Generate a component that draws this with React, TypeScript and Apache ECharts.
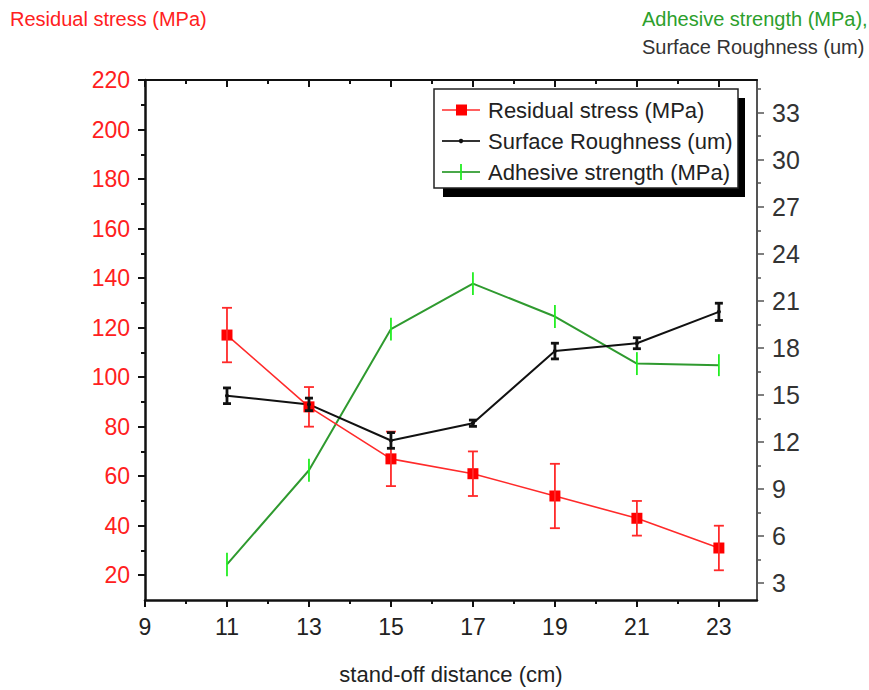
import React, { useEffect, useRef } from "react";
import * as echarts from "echarts";

const distances = [11, 13, 15, 17, 19, 21, 23];
const residualStress = [117, 88, 67, 61, 52, 43, 31];
const residualErr = [11, 8, 11, 9, 13, 7, 9];
const roughness = [14.95, 14.4, 12.1, 13.2, 17.8, 18.3, 20.3];
const roughnessErr = [0.5, 0.4, 0.5, 0.2, 0.5, 0.35, 0.55];
const adhesive = [4.2, 10.2, 19.2, 22.1, 20.0, 17.0, 16.9];
const adhesiveErr = [0.75, 0.73, 0.73, 0.73, 0.73, 0.73, 0.7];

const xMajor = [9, 11, 13, 15, 17, 19, 21, 23];
const xMinor = [10, 12, 14, 16, 18, 20, 22];
const leftMajor = [20, 40, 60, 80, 100, 120, 140, 160, 180, 200, 220];
const leftMinor = [30, 50, 70, 90, 110, 130, 150, 170, 190, 210];
const rightMajor = [3, 6, 9, 12, 15, 18, 21, 24, 27, 30, 33];
const rightMinor = [4.5, 7.5, 10.5, 13.5, 16.5, 19.5, 22.5, 25.5, 28.5, 31.5, 34.5];

const FONT = "'Liberation Sans', Arial, sans-serif";

function errorSeries(
  vals: number[],
  errs: number[],
  yAxisIndex: number,
  color: string,
  cap: number,
  width: number
) {
  return {
    type: "custom",
    xAxisIndex: 0,
    yAxisIndex,
    z: 5,
    silent: true,
    encode: { x: 0, y: [1, 2] },
    data: distances.map((x, i) => [x, vals[i] - errs[i], vals[i] + errs[i]]),
    renderItem: (params: any, api: any) => {
      const x = api.value(0);
      const p1 = api.coord([x, api.value(1)]);
      const p2 = api.coord([x, api.value(2)]);
      const style = { stroke: color, lineWidth: width };
      const children: any[] = [
        { type: "line", shape: { x1: p1[0], y1: p1[1], x2: p2[0], y2: p2[1] }, style },
      ];
      if (cap > 0) {
        children.push({
          type: "line",
          shape: { x1: p1[0] - cap / 2, y1: p1[1], x2: p1[0] + cap / 2, y2: p1[1] },
          style,
        });
        children.push({
          type: "line",
          shape: { x1: p2[0] - cap / 2, y1: p2[1], x2: p2[0] + cap / 2, y2: p2[1] },
          style,
        });
      }
      return { type: "group", children };
    },
  };
}

export default function App() {
  const ref = useRef<HTMLDivElement>(null);

  useEffect(() => {
    if (!ref.current) return;
    const chart = echarts.init(ref.current, null, { renderer: "svg" });
    const xBase = { type: "value", min: 9, max: 23.93, gridIndex: 0, splitLine: { show: false } };
    const yLeftBase = { type: "value", min: 10, max: 220, splitLine: { show: false } };
    const yRightBase = { type: "value", min: 1.93, max: 35.08, splitLine: { show: false } };

    const legendRows = [
      { y: 110, label: "Residual stress (MPa)" },
      { y: 141, label: "Surface Roughness (um)" },
      { y: 172, label: "Adhesive strength (MPa)" },
    ];

    chart.setOption({
      animation: false,
      backgroundColor: "#ffffff",
      textStyle: { fontFamily: FONT },
      grid: { left: 145, right: 112, top: 80, bottom: 86, containLabel: false },
      xAxis: [
        {
          ...xBase,
          position: "bottom",
          name: "stand-off distance (cm)",
          nameLocation: "middle",
          nameGap: 63,
          nameTextStyle: { fontSize: 22, color: "#222", fontFamily: FONT },
          axisLine: { show: true, onZero: false, lineStyle: { color: "#111", width: 2.5 } },
          axisTick: { show: true, inside: false, length: 7, customValues: xMajor, lineStyle: { color: "#111", width: 2 } },
          axisLabel: { show: true, customValues: xMajor, fontSize: 23, color: "#222", margin: 15, fontFamily: FONT },
        },
        {
          ...xBase,
          position: "bottom",
          axisLine: { show: false, onZero: false },
          axisTick: { show: true, inside: false, length: 4, customValues: xMinor, lineStyle: { color: "#111", width: 2 } },
          axisLabel: { show: false },
        },
        {
          ...xBase,
          position: "top",
          axisLine: { show: true, onZero: false, lineStyle: { color: "#111", width: 2 } },
          axisTick: { show: true, inside: true, length: 7, customValues: xMajor, lineStyle: { color: "#111", width: 2 } },
          axisLabel: { show: false },
        },
        {
          ...xBase,
          position: "top",
          axisLine: { show: false, onZero: false },
          axisTick: { show: true, inside: true, length: 4, customValues: xMinor, lineStyle: { color: "#111", width: 2 } },
          axisLabel: { show: false },
        },
      ],
      yAxis: [
        {
          ...yLeftBase,
          position: "left",
          axisLine: { show: true, onZero: false, lineStyle: { color: "#111", width: 2.5 } },
          axisTick: { show: true, inside: false, length: 7, customValues: leftMajor, lineStyle: { color: "#111", width: 2 } },
          axisLabel: { show: true, customValues: leftMajor, fontSize: 23, color: "#ff2020", margin: 15, fontFamily: FONT },
        },
        {
          ...yLeftBase,
          position: "left",
          axisLine: { show: false, onZero: false },
          axisTick: { show: true, inside: false, length: 4, customValues: leftMinor, lineStyle: { color: "#111", width: 2 } },
          axisLabel: { show: false },
        },
        {
          ...yRightBase,
          position: "right",
          axisLine: { show: true, onZero: false, lineStyle: { color: "#555", width: 2 } },
          axisTick: { show: true, inside: false, length: 7, customValues: rightMajor, lineStyle: { color: "#555", width: 1.5 } },
          axisLabel: { show: true, customValues: rightMajor, fontSize: 25, color: "#333", margin: 15, fontFamily: FONT },
        },
        {
          ...yRightBase,
          position: "right",
          axisLine: { show: false, onZero: false },
          axisTick: { show: true, inside: false, length: 4, customValues: rightMinor, lineStyle: { color: "#555", width: 1.5 } },
          axisLabel: { show: false },
        },
      ],
      series: [
        {
          name: "Adhesive strength (MPa)",
          type: "line",
          xAxisIndex: 0,
          yAxisIndex: 2,
          data: distances.map((x, i) => [x, adhesive[i]]),
          showSymbol: false,
          symbol: "none",
          lineStyle: { color: "#2f9a2f", width: 2 },
          z: 2,
        },
        errorSeries(adhesive, adhesiveErr, 2, "#22ee22", 0, 1.8),
        {
          name: "Residual stress (MPa)",
          type: "line",
          xAxisIndex: 0,
          yAxisIndex: 0,
          data: distances.map((x, i) => [x, residualStress[i]]),
          symbol: "rect",
          symbolSize: 11,
          itemStyle: { color: "#ff0000" },
          lineStyle: { color: "#ff2a2a", width: 1.6 },
          z: 3,
        },
        errorSeries(residualStress, residualErr, 0, "#ff2a2a", 10, 1.8),
        {
          name: "Surface Roughness (um)",
          type: "line",
          xAxisIndex: 0,
          yAxisIndex: 2,
          data: distances.map((x, i) => [x, roughness[i]]),
          symbol: "circle",
          symbolSize: 4,
          itemStyle: { color: "#111" },
          lineStyle: { color: "#111", width: 2 },
          z: 3,
        },
        errorSeries(roughness, roughnessErr, 2, "#111", 8, 2.8),
      ],
      graphic: [
        {
          type: "text",
          left: 10,
          top: 9,
          style: { text: "Residual stress (MPa)", fontSize: 20, fill: "#ff2020", fontFamily: FONT },
        },
        {
          type: "text",
          left: 642,
          top: 9,
          style: { text: "Adhesive strength (MPa),", fontSize: 20, fill: "#2ca02c", fontFamily: FONT },
        },
        {
          type: "text",
          left: 642,
          top: 37,
          style: { text: "Surface Roughness (um)", fontSize: 20, fill: "#333", fontFamily: FONT },
        },
        {
          type: "rect",
          z: 50,
          shape: { x: 443, y: 98, width: 302, height: 99 },
          style: { fill: "#000" },
        },
        {
          type: "rect",
          z: 51,
          shape: { x: 434, y: 89, width: 304, height: 99 },
          style: { fill: "#fff", stroke: "#222", lineWidth: 1.5 },
        },
        {
          type: "group",
          z: 52,
          children: [
            { type: "line", z: 52, shape: { x1: 442, y1: legendRows[0].y, x2: 480, y2: legendRows[0].y }, style: { stroke: "#ff6060", lineWidth: 1.8 } },
            { type: "rect", z: 53, shape: { x: 456, y: legendRows[0].y - 5.5, width: 11, height: 11 }, style: { fill: "#ff0000" } },
            { type: "line", z: 52, shape: { x1: 442, y1: legendRows[1].y, x2: 480, y2: legendRows[1].y }, style: { stroke: "#333", lineWidth: 1.8 } },
            { type: "circle", z: 53, shape: { cx: 461, cy: legendRows[1].y, r: 2.2 }, style: { fill: "#111" } },
            { type: "line", z: 52, shape: { x1: 442, y1: legendRows[2].y, x2: 480, y2: legendRows[2].y }, style: { stroke: "#4aa84a", lineWidth: 1.8 } },
            { type: "line", z: 53, shape: { x1: 461, y1: legendRows[2].y - 8, x2: 461, y2: legendRows[2].y + 8 }, style: { stroke: "#22ee22", lineWidth: 1.8 } },
            ...legendRows.map((r) => ({
              type: "text",
              z: 53,
              x: 488,
              y: r.y,
              style: { text: r.label, fontSize: 22, fill: "#222", fontFamily: FONT, verticalAlign: "middle" },
            })),
          ],
        },
      ],
    });
    return () => chart.dispose();
  }, []);

  return (
    <div
      ref={ref}
      style={{ position: "fixed", left: 0, top: 0, width: 869, height: 690 }}
    />
  );
}
